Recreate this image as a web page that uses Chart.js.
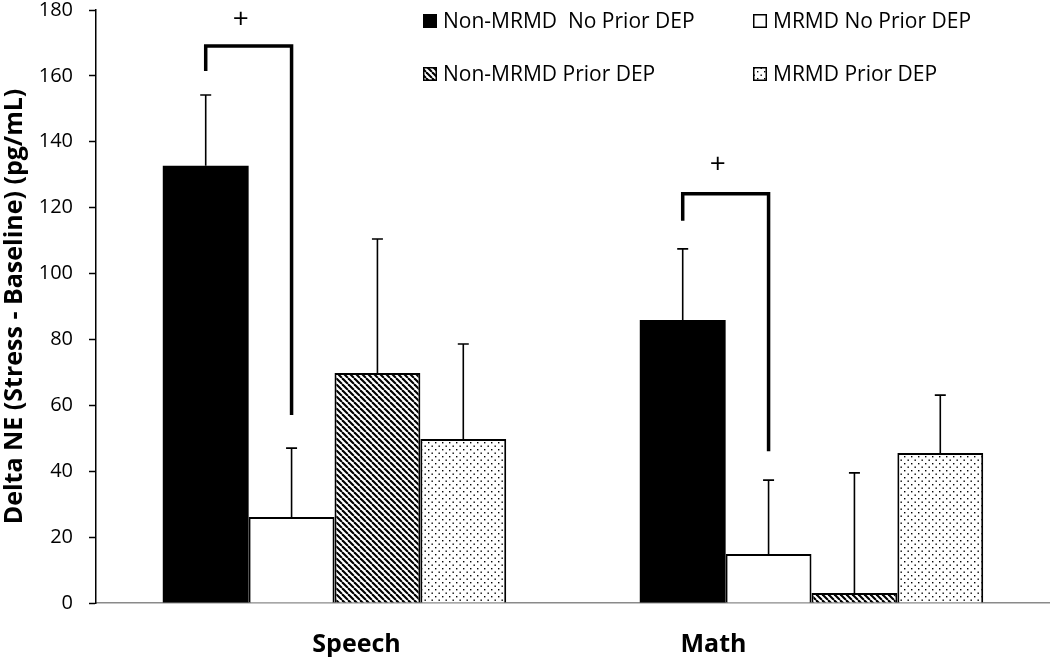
<!DOCTYPE html>
<html>
<head>
<meta charset="utf-8">
<script src="https://cdn.jsdelivr.net/npm/chart.js@4.4.1/dist/chart.umd.min.js"></script>
<style>
html,body{margin:0;padding:0;background:#fff;}
#wrap{width:1050px;height:657px;position:relative;}
</style>
</head>
<body>
<div id="wrap"><canvas id="c" width="1050" height="657"></canvas></div>
<script>
// ---- data ----
const categories = ['Speech', 'Math'];
const seriesNames = ['Non-MRMD  No Prior DEP', 'MRMD No Prior DEP', 'Non-MRMD Prior DEP', 'MRMD Prior DEP'];
const nonMrmdNoPrior = [132.7, 85.9];
const mrmdNoPrior = [26.1, 14.9];
const nonMrmdPrior = [69.8, 3.0];
const mrmdPrior = [49.8, 45.5];
const errNonMrmdNoPrior = [21.5, 21.6];
const errMrmdNoPrior = [20.9, 22.4];
const errNonMrmdPrior = [40.7, 36.5];
const errMrmdPrior = [28.8, 17.6];
const yTicks = [0, 20, 40, 60, 80, 100, 120, 140, 160, 180];
// significance brackets (data units), per category
const bracketTop = [169.1, 124.2];
const bracketLeftEnd = [161.5, 116.0];
const bracketRightEnd = [57.1, 46.1];
const plusY = [177.0, 133.0];
const plusMark = '+';

const FONT = "'Open Sans', 'Liberation Sans', sans-serif";

function hatchPattern() {
  const s = 6;
  const c = document.createElement('canvas');
  c.width = s; c.height = s;
  const g = c.getContext('2d');
  g.fillStyle = '#fff'; g.fillRect(0, 0, s, s);
  g.strokeStyle = '#000'; g.lineWidth = 2.1;
  for (const x0 of [-s, 0, s]) {
    g.beginPath(); g.moveTo(x0, 0); g.lineTo(x0 + s, s); g.stroke();
  }
  return g.createPattern(c, 'repeat');
}
function dotPattern() {
  const s = 7;
  const c = document.createElement('canvas');
  c.width = s; c.height = s;
  const g = c.getContext('2d');
  g.fillStyle = '#fff'; g.fillRect(0, 0, s, s);
  g.fillStyle = '#000';
  g.fillRect(1, 1, 1.4, 1.4);
  g.fillRect(4.5, 4.5, 1.4, 1.4);
  return g.createPattern(c, 'repeat');
}
const ctx = document.getElementById('c').getContext('2d');
const fills = ['#000', '#fff', hatchPattern(), dotPattern()];
const values = [nonMrmdNoPrior, mrmdNoPrior, nonMrmdPrior, mrmdPrior];
const errors = [errNonMrmdNoPrior, errMrmdNoPrior, errNonMrmdPrior, errMrmdPrior];

const errorBarPlugin = {
  id: 'errbars',
  afterDatasetsDraw(chart) {
    const g = chart.ctx, y = chart.scales.y;
    g.save();
    g.strokeStyle = '#000'; g.lineWidth = 1.6;
    chart.data.datasets.forEach((ds, i) => {
      const meta = chart.getDatasetMeta(i);
      meta.data.forEach((el, j) => {
        const top = y.getPixelForValue(values[i][j] + errors[i][j]);
        g.beginPath();
        g.moveTo(el.x, el.y); g.lineTo(el.x, top);
        g.moveTo(el.x - 5.5, top); g.lineTo(el.x + 5.5, top);
        g.stroke();
      });
    });
    // brackets
    const m0 = chart.getDatasetMeta(0), m1 = chart.getDatasetMeta(1);
    g.lineWidth = 3.5; g.lineJoin = 'miter'; g.lineCap = 'butt';
    categories.forEach((c, j) => {
      const xl = m0.data[j].x, xr = m1.data[j].x;
      g.beginPath();
      g.moveTo(xl, y.getPixelForValue(bracketLeftEnd[j]));
      g.lineTo(xl, y.getPixelForValue(bracketTop[j]));
      g.lineTo(xr, y.getPixelForValue(bracketTop[j]));
      g.lineTo(xr, y.getPixelForValue(bracketRightEnd[j]));
      g.stroke();
      g.fillStyle = '#000';
      g.font = "28px " + FONT;
      g.textAlign = 'center'; g.textBaseline = 'middle';
      g.fillText(plusMark, xl + 35, y.getPixelForValue(plusY[j]));
    });
    g.restore();
  }
};

const xLabelOffsets = [22, -98];
const labelsAndLegendPlugin = {
  id: 'labelsLegend',
  afterDraw(chart) {
    const g = chart.ctx, x = chart.scales.x;
    g.save();
    g.fillStyle = '#000';
    g.font = "bold 25px " + FONT;
    g.textAlign = 'center'; g.textBaseline = 'alphabetic';
    categories.forEach((c, j) => {
      g.fillText(c, x.getPixelForValue(j) + xLabelOffsets[j], 652);
    });
    // legend
    const cols = [423, 753], rows = [21, 74], box = 14;
    g.font = "21px " + FONT;
    g.textAlign = 'left'; g.textBaseline = 'middle';
    seriesNames.forEach((name, i) => {
      const bx = cols[i % 2], by = rows[Math.floor(i / 2)];
      g.fillStyle = fills[i];
      g.fillRect(bx, by - box / 2, box, box);
      if (i > 0) {
        g.strokeStyle = '#000'; g.lineWidth = 1.5;
        g.strokeRect(bx + 0.75, by - box / 2 + 0.75, box - 1.5, box - 1.5);
      }
      g.fillStyle = '#000';
      g.fillText(name, bx + 20, by + 1);
    });
    g.restore();
  }
};

new Chart(ctx, {
  type: 'bar',
  data: {
    labels: categories,
    datasets: seriesNames.map((n, i) => ({
      label: n,
      data: values[i],
      backgroundColor: fills[i],
      borderColor: '#000',
      borderWidth: i === 0 ? 0 : 2,
      borderSkipped: 'bottom',
      categoryPercentage: 0.72,
      barPercentage: 1.0
    }))
  },
  options: {
    responsive: false,
    animation: false,
    devicePixelRatio: 1,
    layout: { padding: { top: 10, right: 0, bottom: 0, left: 0 } },
    plugins: { legend: { display: false }, tooltip: { enabled: false } },
    scales: {
      x: {
        grid: { display: false },
        border: { display: true, color: '#8a8a8a', width: 1.5 },
        ticks: { display: false },
        afterFit(s) { s.height = 54; s.paddingLeft = 0; s.paddingRight = 0; }
      },
      y: {
        min: 0, max: 180,
        afterBuildTicks(s) { s.ticks = yTicks.map(v => ({ value: v })); },
        ticks: { color: '#000', font: { family: FONT, size: 20, lineHeight: 1 }, padding: 16 },
        grid: { drawOnChartArea: false, drawTicks: true, tickLength: 7, color: '#000', tickWidth: 1.5 },
        border: { display: true, color: '#000', width: 1.5 },
        title: { display: true, text: 'Delta NE (Stress - Baseline) (pg/mL)', color: '#000',
                 font: { family: FONT, size: 25, weight: 'bold' }, padding: { top: 0, bottom: 0 } },
        afterFit(s) { s.width = 96; s.paddingTop = 0; s.paddingBottom = 0; }
      }
    }
  },
  plugins: [errorBarPlugin, labelsAndLegendPlugin]
});
</script>
</body>
</html>
